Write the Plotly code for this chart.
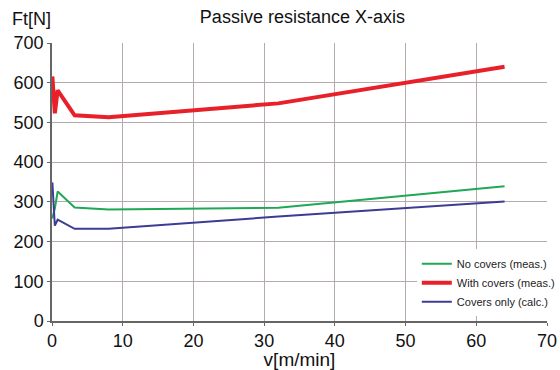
import plotly.graph_objects as go

speed = [0.05, 0.4, 0.8, 3.2, 8, 32, 64]
no_covers = [258, 283, 326, 286, 281, 285, 339]
with_covers = [616, 523, 581, 518, 513, 548, 640]
covers_only = [349, 240, 255, 232, 232, 263, 301]

x_ticks = [0, 10, 20, 30, 40, 50, 60, 70]
y_ticks = [0, 100, 200, 300, 400, 500, 600, 700]

fig = go.Figure()
fig.add_trace(go.Scatter(x=speed, y=no_covers, mode="lines", name="No covers (meas.)",
                         line=dict(color="#1fa855", width=2)))
fig.add_trace(go.Scatter(x=speed, y=with_covers, mode="lines", name="With covers (meas.)",
                         line=dict(color="#e8202a", width=4)))
fig.add_trace(go.Scatter(x=speed, y=covers_only, mode="lines", name="Covers only (calc.)",
                         line=dict(color="#3c3c96", width=2)))

font_family = "Liberation Sans, Arial, sans-serif"
fig.update_layout(
    width=560, height=370,
    margin=dict(l=52, r=13, t=43, b=49, autoexpand=False),
    paper_bgcolor="white", plot_bgcolor="white",
    font=dict(family=font_family, color="#111111"),
    showlegend=True,
    legend=dict(x=0.737, y=0.258, xanchor="left", yanchor="top",
                bgcolor="white", font=dict(size=11, color="#222222"),
                tracegroupgap=0, itemwidth=30),
    title=dict(text="Passive resistance X-axis", x=0.54, xanchor="center",
               y=0.955, yanchor="middle", font=dict(size=18, color="#111111")),
    annotations=[
        dict(text="Ft[N]", xref="paper", yref="paper", x=-0.085, y=1.085,
             xanchor="left", yanchor="middle", showarrow=False,
             font=dict(size=18, color="#111111")),
    ],
)
fig.update_xaxes(
    range=[0, 70], tickvals=x_ticks, ticktext=[str(v) for v in x_ticks],
    showgrid=True, gridcolor="#b4acac", gridwidth=1,
    showline=True, linecolor="#666666", linewidth=1.5,
    ticks="outside", ticklen=3, tickcolor="#666666",
    tickfont=dict(size=18, color="#111111"),
    title=dict(text="v[m/min]", font=dict(size=19, color="#111111"), standoff=2),
    zeroline=False, automargin=False,
)
fig.update_yaxes(
    range=[0, 700], tickvals=y_ticks, ticktext=[str(v) for v in y_ticks],
    showgrid=True, gridcolor="#b4acac", gridwidth=1,
    showline=True, linecolor="#666666", linewidth=1.5,
    ticks="outside", ticklen=3, tickcolor="#666666",
    tickfont=dict(size=18, color="#111111"),
    zeroline=False, automargin=False,
)

fig.write_html("out.html")
